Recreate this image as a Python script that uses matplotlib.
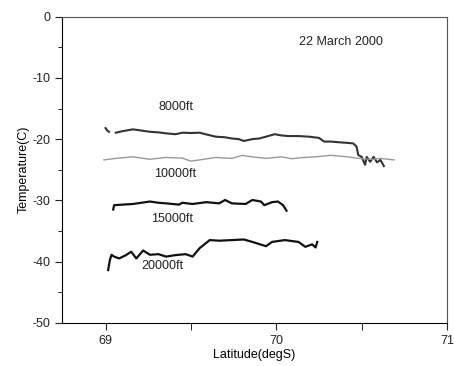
import numpy as np
import matplotlib
matplotlib.use("Agg")
import matplotlib.pyplot as plt
from matplotlib.ticker import MultipleLocator

plt.rcParams['font.family'] = ['Liberation Sans', 'DejaVu Sans']
plt.rcParams['axes.unicode_minus'] = False

# 8000ft (nan = gap after the first isolated blob)
lat_8000 = [69.00, 69.01, 69.02, np.nan, 69.06, 69.10, 69.16, 69.21, 69.26, 69.31, 69.355, 69.41,
            69.45, 69.50, 69.55, 69.60, 69.645, 69.70, 69.74, 69.78, 69.81, 69.86, 69.90,
            69.94, 69.99, 70.03, 70.07, 70.13, 70.19, 70.25, 70.28, 70.32, 70.36, 70.41,
            70.45, 70.47, 70.48, 70.50, 70.52, 70.53, 70.55, 70.57, 70.59, 70.61, 70.63]
temp_8000 = [-18.2, -18.6, -18.8, np.nan, -18.95, -18.7, -18.4, -18.6, -18.8, -18.9, -19.06, -19.2,
             -18.95, -19.0, -18.95, -19.3, -19.6, -19.7, -19.9, -20.0, -20.3, -20.0, -19.9,
             -19.6, -19.2, -19.4, -19.5, -19.5, -19.6, -19.8, -20.4, -20.4, -20.5, -20.6,
             -20.7, -21.2, -22.6, -22.9, -24.2, -22.9, -23.7, -22.9, -23.8, -23.4, -24.4]

# 10000ft
lat_10000 = [68.99, 69.06, 69.16, 69.26, 69.35, 69.45, 69.50, 69.55, 69.645, 69.74, 69.80,
             69.86, 69.94, 70.03, 70.09, 70.16, 70.23, 70.32, 70.42, 70.48, 70.56, 70.61, 70.69]
temp_10000 = [-23.4, -23.15, -22.9, -23.3, -23.0, -23.1, -23.6, -23.4, -23.0, -23.15, -22.65,
              -22.9, -23.15, -22.9, -23.2, -23.0, -22.9, -22.65, -22.9, -23.15, -23.3, -23.15, -23.4]

# 15000ft
lat_15000 = [69.045, 69.05, 69.10, 69.16, 69.21, 69.26, 69.31, 69.355, 69.43, 69.45, 69.51,
             69.59, 69.665, 69.70, 69.74, 69.82, 69.86, 69.91, 69.93, 69.975, 70.01, 70.04, 70.06]
temp_15000 = [-31.5, -30.8, -30.7, -30.6, -30.4, -30.2, -30.4, -30.5, -30.7, -30.4, -30.6,
              -30.3, -30.5, -29.95, -30.5, -30.6, -29.95, -30.2, -30.8, -30.3, -30.2, -30.8, -31.7]

# 20000ft
lat_20000 = [69.015, 69.025, 69.035, 69.05, 69.08, 69.12, 69.15, 69.18, 69.22, 69.26, 69.31,
             69.355, 69.41, 69.47, 69.51, 69.55, 69.61, 69.665, 69.74, 69.81, 69.86, 69.94,
             69.975, 70.05, 70.13, 70.17, 70.21, 70.23, 70.24]
temp_20000 = [-41.4, -39.8, -38.9, -39.2, -39.5, -38.95, -38.4, -39.5, -38.2, -38.9, -38.8,
              -39.2, -38.95, -38.8, -39.2, -37.85, -36.5, -36.6, -36.5, -36.4, -36.8, -37.5,
              -36.8, -36.5, -36.8, -37.6, -37.2, -37.7, -36.8]

labels = ['8000ft', '10000ft', '15000ft', '20000ft']
label_lat = [69.41, 69.41, 69.39, 69.335]
label_temp = [-14.8, -25.7, -33.0, -40.8]

fig = plt.figure(figsize=(4.54, 3.66), dpi=100)
ax = fig.add_axes([0.1366, 0.1183, 0.848, 0.836])

ax.plot(lat_8000, temp_8000, color='#333333', linewidth=1.5)
ax.plot(lat_10000, temp_10000, color='#999999', linewidth=1.0)
ax.plot(lat_15000, temp_15000, color='#111111', linewidth=1.6)
ax.plot(lat_20000, temp_20000, color='#111111', linewidth=1.6)

for t, x, y in zip(labels, label_lat, label_temp):
    ax.text(x, y, t, ha='center', va='center', fontsize=9, color='#222222')
ax.text(70.38, -4.1, '22 March 2000', ha='center', va='center', fontsize=9, color='#222222')

ax.set_xlim(68.745, 71)
ax.set_ylim(-50, 0)
ax.set_xticks([69, 70, 71])
ax.xaxis.set_minor_locator(MultipleLocator(0.5))
ax.set_yticks([0, -10, -20, -30, -40, -50])
ax.yaxis.set_minor_locator(MultipleLocator(5))
ax.tick_params(which='major', direction='out', length=5, labelsize=9, colors='#222222')
ax.tick_params(which='minor', direction='out', length=3)
ax.tick_params(axis='x', which='minor', length=5)
for s in ['top', 'right']:
    ax.spines[s].set_color('#555555')
    ax.spines[s].set_linewidth(0.8)
ax.set_xlabel('Latitude(degS)', fontsize=9, labelpad=2)
ax.set_ylabel('Temperature(C)', fontsize=9, labelpad=2)

fig.savefig('out.png', dpi=100)
